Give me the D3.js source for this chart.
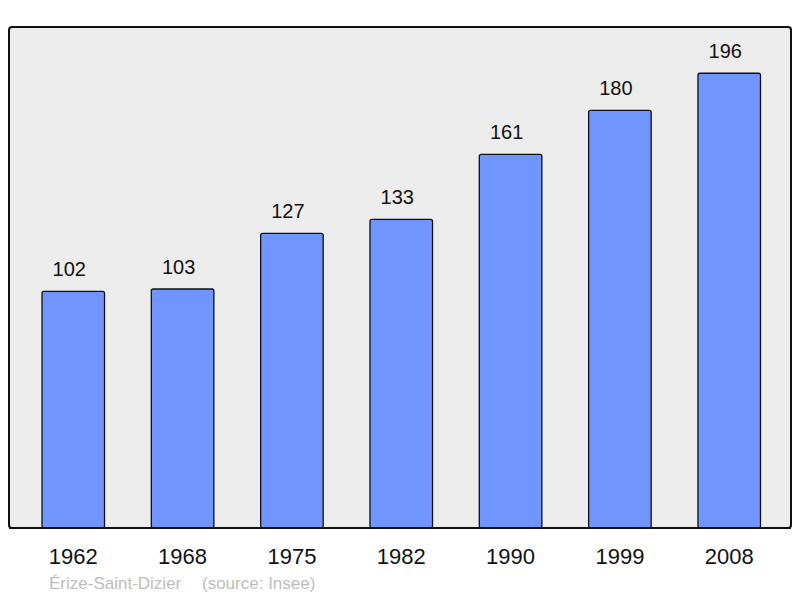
<!DOCTYPE html>
<html><head><meta charset="utf-8">
<script src="https://cdn.jsdelivr.net/npm/d3@7"></script>
<style>body{margin:0;background:#fff}svg{display:block}</style>
</head><body>
<script>
const years = ["1962","1968","1975","1982","1990","1999","2008"];
const population = [102,103,127,133,161,180,196];
const commune = "Érize-Saint-Dizier";
const source = "(source: Insee)";

const W = 800, H = 598;
const FONT = "Liberation Sans, Arial, sans-serif";
const svg = d3.select("body").append("svg").attr("width", W).attr("height", H);
const box = {x: 9, y: 27, w: 782, h: 501};
svg.append("rect").attr("x", box.x).attr("y", box.y).attr("width", box.w).attr("height", box.h)
  .attr("rx", 3).attr("fill", "#ececec").attr("stroke", "#111").attr("stroke-width", 2);

const x = d3.scaleBand().domain(years).range([18.6, 783.9]).paddingInner(0.428).paddingOuter(0.214);
const y = d3.scaleLinear().domain([0, 215.5]).range([528, 28]);

const g = svg.append("g");
g.selectAll("rect.bar").data(population).join("rect").attr("class","bar")
  .attr("x", (d,i) => x(years[i])).attr("width", x.bandwidth())
  .attr("y", d => y(d)).attr("height", d => y(0) - y(d))
  .attr("rx", 2).attr("fill", "#7095ff").attr("stroke", "#111").attr("stroke-width", 1.3);

g.selectAll("text.val").data(population).join("text").attr("class","val")
  .attr("x", (d,i) => x(years[i]) + x.bandwidth()/2 - 4).attr("y", d => y(d) - 15)
  .attr("text-anchor","middle").attr("font-family", FONT)
  .attr("font-size", 20).attr("fill","#111").text(d => d);

svg.append("line").attr("x1", box.x).attr("x2", box.x+box.w).attr("y1", box.y+box.h).attr("y2", box.y+box.h)
  .attr("stroke","#111").attr("stroke-width",2);

const xAxis = d3.axisBottom(x).tickSize(0).tickPadding(0);
const ax = svg.append("g").attr("transform", "translate(0,564)").call(xAxis);
ax.select(".domain").remove();
ax.selectAll("text").attr("font-family", FONT).attr("font-size", 22)
  .attr("fill","#111").attr("dy", null).attr("y", 0);

svg.append("text").attr("x", 49).attr("y", 588.5).attr("font-family", FONT)
  .attr("font-size", 17).attr("fill","#bdbdbd").text(commune);
svg.append("text").attr("x", 202).attr("y", 588.5).attr("font-family", FONT)
  .attr("font-size", 17).attr("fill","#bdbdbd").text(source);
</script>
</body></html>
